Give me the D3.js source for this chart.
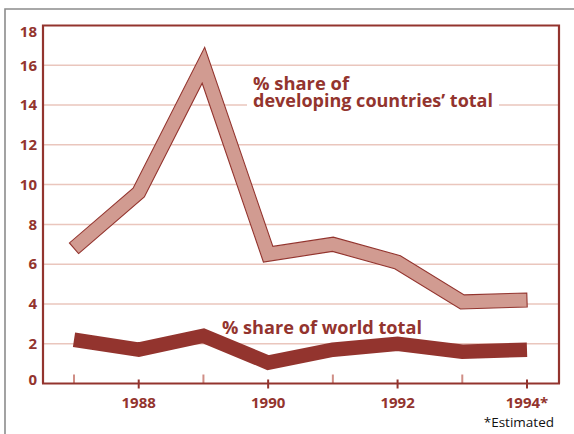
<!DOCTYPE html>
<html>
<head>
<meta charset="utf-8">
<script src="https://cdn.jsdelivr.net/npm/d3@7"></script>
<style>
  body { margin: 0; background: #fff; }
  svg { display: block; font-family: "Open Sans", "Noto Sans", sans-serif; }
</style>
</head>
<body>
<div id="chart"></div>
<script>
(function () {
  // data
  const years = [1987, 1988, 1989, 1990, 1991, 1992, 1993, 1994];
  const developingShare = [6.8, 9.6, 16.0, 6.5, 7.0, 6.1, 4.1, 4.2];
  const worldShare = [2.2, 1.7, 2.4, 1.05, 1.7, 2.0, 1.6, 1.7];
  const yTicks = [0, 2, 4, 6, 8, 10, 12, 14, 16, 18];
  const xLabels = ["1988", "1990", "1992", "1994*"];
  const labelYears = [1988, 1990, 1992, 1994];

  const W = 574, H = 434;
  const dark = "#93342e";
  const bandFill = "#d19b91";
  const gridCol = "#eac6bd";
  const minorTick = "#d08e86";

  const frame = { left: 43, right: 559, top: 25.5, bottom: 383.5 };

  const x = d3.scaleLinear().domain([1987, 1994]).range([74, 527]);
  const y = d3.scaleLinear().domain([0, 18]).range([frame.bottom, frame.top]);

  const svg = d3.select("#chart").append("svg")
    .attr("width", W).attr("height", H);

  // outer grey box (runs off the page right and bottom)
  svg.append("path")
    .attr("d", `M5,${H + 5}V9H${W + 5}`)
    .attr("fill", "none")
    .attr("stroke", "#8c8c8c")
    .attr("stroke-width", 1.6);

  // gridlines
  svg.append("g")
    .selectAll("line")
    .data(yTicks.filter(d => d > 0 && d < 18))
    .join("line")
    .attr("x1", frame.left + 1).attr("x2", frame.right - 1)
    .attr("y1", d => y(d)).attr("y2", d => y(d))
    .attr("stroke", gridCol).attr("stroke-width", 1.5);

  // frame
  svg.append("path")
    .attr("d", `M${frame.left},${frame.bottom}V${frame.top}H${frame.right}V${frame.bottom}`)
    .attr("fill", "none")
    .attr("stroke", dark)
    .attr("stroke-width", 2.2);

  // y labels
  svg.append("g")
    .selectAll("text")
    .data(yTicks)
    .join("text")
    .attr("x", 37)
    .attr("y", d => y(d) + (d === 18 ? 6 : d === 0 ? -4 : 0))
    .attr("dy", "0.35em")
    .attr("text-anchor", "end")
    .attr("fill", dark)
    .attr("font-weight", "bold")
    .attr("font-size", 15)
    .text(d => d);

  // ticks
  svg.append("g")
    .selectAll("line")
    .data(years)
    .join("line")
    .attr("x1", d => x(d)).attr("x2", d => x(d))
    .attr("y1", d => d % 2 === 0 ? frame.bottom - 4 : frame.bottom - 9)
    .attr("y2", d => d % 2 === 0 ? frame.bottom + 5 : frame.bottom)
    .attr("stroke", d => d % 2 === 0 ? dark : minorTick)
    .attr("stroke-width", 2);

  // x axis line
  svg.append("line")
    .attr("x1", frame.left - 1).attr("x2", frame.right + 1)
    .attr("y1", frame.bottom).attr("y2", frame.bottom)
    .attr("stroke", dark).attr("stroke-width", 2.2);

  // x labels
  svg.append("g")
    .selectAll("text")
    .data(labelYears)
    .join("text")
    .attr("x", d => x(d))
    .attr("y", 408)
    .attr("text-anchor", "middle")
    .attr("fill", dark)
    .attr("font-weight", "bold")
    .attr("font-size", 15)
    .text((d, i) => xLabels[i]);

  svg.append("text")
    .attr("x", 554).attr("y", 427)
    .attr("text-anchor", "end")
    .attr("fill", "#111")
    .attr("font-size", 13.5)
    .text("*Estimated");

  // developing countries band: offset polygon around the centre line
  const pts = years.map((yr, i) => [x(yr), y(developingShare[i])]);
  const half = 7;
  const normals = [];
  for (let i = 0; i < pts.length - 1; i++) {
    const dx = pts[i + 1][0] - pts[i][0], dy = pts[i + 1][1] - pts[i][1];
    const len = Math.hypot(dx, dy);
    normals.push([-dy / len, dx / len]);
  }
  const upper = [], lower = [];
  pts.forEach((p, i) => {
    let n;
    if (i === 0) n = normals[0];
    else if (i === pts.length - 1) n = normals[normals.length - 1];
    else {
      const a = normals[i - 1], b = normals[i];
      const m = [a[0] + b[0], a[1] + b[1]];
      const ml = Math.hypot(m[0], m[1]);
      const cos = (m[0] / ml) * a[0] + (m[1] / ml) * a[1];
      n = [m[0] / ml / cos, m[1] / ml / cos];
    }
    upper.push([p[0] + n[0] * half, p[1] + n[1] * half]);
    lower.push([p[0] - n[0] * half, p[1] - n[1] * half]);
  });
  svg.append("path")
    .attr("d", d3.line()(upper.concat(lower.reverse())) + "Z")
    .attr("fill", bandFill)
    .attr("stroke", dark)
    .attr("stroke-width", 1.1)
    .attr("stroke-linejoin", "miter")
    .attr("stroke-miterlimit", 20);

  // world total line
  const worldLine = d3.line()
    .x((d, i) => x(years[i]))
    .y(d => y(d));
  svg.append("path")
    .datum(worldShare)
    .attr("d", worldLine)
    .attr("fill", "none")
    .attr("stroke", dark)
    .attr("stroke-width", 14.5)
    .attr("stroke-linejoin", "miter")
    .attr("stroke-linecap", "butt");

  // series labels
  const lab = svg.append("g")
    .attr("fill", dark)
    .attr("font-weight", "bold")
    .attr("font-size", 17.5);

  const line2 = lab.append("text")
    .attr("x", 253).attr("y", 107)
    .attr("textLength", 240)
    .attr("lengthAdjust", "spacingAndGlyphs")
    .text("developing countries\u2019 total");
  const bb = line2.node().getBBox();
  lab.insert("rect", "text")
    .attr("x", bb.x - 6).attr("y", bb.y + 4)
    .attr("width", bb.width + 12).attr("height", bb.height - 6)
    .attr("fill", "#fff");
  lab.append("text")
    .attr("x", 253).attr("y", 90)
    .attr("textLength", 96)
    .attr("lengthAdjust", "spacingAndGlyphs")
    .text("% share of");

  lab.append("text")
    .attr("x", 222).attr("y", 334)
    .attr("textLength", 200)
    .attr("lengthAdjust", "spacingAndGlyphs")
    .text("% share of world total");
})();
</script>
</body>
</html>
